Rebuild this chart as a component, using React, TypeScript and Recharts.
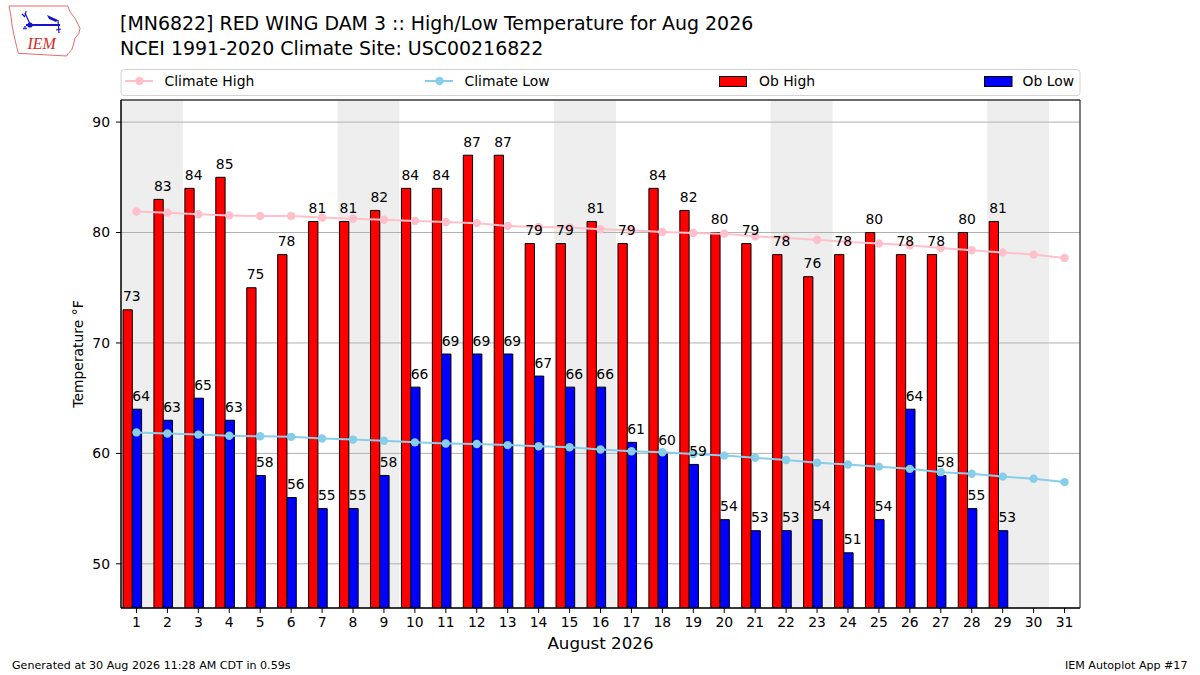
import React from 'react';
import {
  ComposedChart,
  Bar,
  Line,
  XAxis,
  YAxis,
  CartesianGrid,
  ReferenceArea,
  LabelList,
} from 'recharts';

const days = [1, 2, 3, 4, 5, 6, 7, 8, 9, 10, 11, 12, 13, 14, 15, 16, 17, 18, 19, 20, 21, 22, 23, 24, 25, 26, 27, 28, 29, 30, 31];
const obHigh: (number | null)[] = [73, 83, 84, 85, 75, 78, 81, 81, 82, 84, 84, 87, 87, 79, 79, 81, 79, 84, 82, 80, 79, 78, 76, 78, 80, 78, 78, 80, 81, null, null];
const obLow: (number | null)[] = [64, 63, 65, 63, 58, 56, 55, 55, 58, 66, 69, 69, 69, 67, 66, 66, 61, 60, 59, 54, 53, 53, 54, 51, 54, 64, 58, 55, 53, null, null];
const climateHigh = [81.9, 81.8, 81.65, 81.55, 81.5, 81.5, 81.35, 81.25, 81.15, 81.05, 80.95, 80.85, 80.6, 80.5, 80.45, 80.3, 80.2, 80.05, 79.95, 79.9, 79.65, 79.5, 79.35, 79.15, 79.0, 78.85, 78.6, 78.4, 78.2, 78.0, 77.7];
const climateLow = [61.9, 61.8, 61.7, 61.6, 61.55, 61.5, 61.35, 61.25, 61.15, 61.0, 60.9, 60.85, 60.75, 60.65, 60.55, 60.35, 60.2, 60.1, 59.95, 59.8, 59.6, 59.4, 59.15, 59.0, 58.8, 58.6, 58.3, 58.15, 57.9, 57.7, 57.4];
const weekendStarts = [1, 8, 15, 22, 29];
const yTicks = [50, 60, 70, 80, 90];
const yDomain: [number, number] = [46, 92];
const xDomain: [number, number] = [0.5, 31.5];

const titleLine1 = '[MN6822] RED WING DAM 3 :: High/Low Temperature for Aug 2026';
const titleLine2 = 'NCEI 1991-2020 Climate Site: USC00216822';
const xLabel = 'August 2026';
const yLabel = 'Temperature °F';
const footerLeft = 'Generated at 30 Aug 2026 11:28 AM CDT in 0.59s';
const footerRight = 'IEM Autoplot App #17';

const data = days.map((d, i) => ({
  day: d,
  obHigh: obHigh[i],
  obLow: obLow[i],
  climateHigh: climateHigh[i],
  climateLow: climateLow[i],
}));

const FONT = '"DejaVu Sans", sans-serif';

const BarLabel = (props: any) => {
  const { x, y, value } = props;
  if (value === null || value === undefined) return null;
  return (
    <text x={x} y={y - 8.5} fontSize={13.9} fontFamily={FONT} fill="#000" textAnchor="start">
      {value}
    </text>
  );
};

const Logo = () => (
  <g>
    <polygon
      points="9,6 67.7,6 70,11.7 75,18.3 80,28.3 79,33.3 75,38.3 73.3,45 71.7,50 68.3,53.3 66.7,56 18.3,53.3 16.7,46.7 14.3,36.7 12.3,26.7 11,16.7"
      fill="#fff"
      stroke="#e86a6a"
      strokeWidth={1}
    />
    <line x1={26} y1={25} x2={60} y2={25} stroke="#1414c8" strokeWidth={2} />
    <circle cx={30} cy={25} r={2.6} fill="#1414c8" />
    <line x1={25} y1={13} x2={30} y2={24} stroke="#1414c8" strokeWidth={1.2} />
    <line x1={22} y1={14} x2={25} y2={17} stroke="#1414c8" strokeWidth={1.2} />
    <line x1={26} y1={11} x2={25} y2={16} stroke="#1414c8" strokeWidth={1.2} />
    <polygon points="47,15 58,20 56,22 49,19" fill="#1414c8" />
    <line x1={58} y1={20} x2={59} y2={33} stroke="#1414c8" strokeWidth={1.2} />
    <line x1={56} y1={30} x2={61} y2={29} stroke="#1414c8" strokeWidth={1.2} />
    <circle cx={24} cy={28.5} r={0.9} fill="#1414c8" />
    <circle cx={26} cy={28.5} r={0.9} fill="#1414c8" />
    <circle cx={25} cy={26.8} r={0.9} fill="#1414c8" />
    <text x={27.5} y={48.5} fontSize={16} fontFamily='"Liberation Serif", serif' fontStyle="italic" fill="#d42a2a">
      IEM
    </text>
  </g>
);

const Overlay = () => (
  <svg
    width={1200}
    height={675}
    style={{ position: 'absolute', left: 0, top: 0, pointerEvents: 'none' }}
  >
    <Logo />
    <text x={120} y={29.5} fontSize={18.95} fontFamily={FONT} fill="#000">{titleLine1}</text>
    <text x={120} y={54.5} fontSize={18.95} fontFamily={FONT} fill="#000">{titleLine2}</text>

    {/* legend */}
    <rect x={121} y={69.5} width={959} height={26} rx={3} ry={3} fill="#fff" stroke="#d3d3d3" strokeWidth={1} />
    <line x1={125} y1={81} x2={153} y2={81} stroke="#ffc0cb" strokeWidth={2} />
    <circle cx={139.5} cy={81} r={4.2} fill="#ffc0cb" />
    <text x={164.5} y={86} fontSize={13.9} fontFamily={FONT} fill="#000">Climate High</text>
    <line x1={425} y1={81} x2={453} y2={81} stroke="#87ceeb" strokeWidth={2} />
    <circle cx={439.5} cy={81} r={4.2} fill="#87ceeb" />
    <text x={464.5} y={86} fontSize={13.9} fontFamily={FONT} fill="#000">Climate Low</text>
    <rect x={719.5} y={76.5} width={27} height={10} fill="#ff0000" stroke="#000" strokeWidth={1} />
    <text x={759} y={86} fontSize={13.9} fontFamily={FONT} fill="#000">Ob High</text>
    <rect x={984.5} y={76.5} width={27.5} height={10} fill="#0000ff" stroke="#000" strokeWidth={1} />
    <text x={1022.5} y={86} fontSize={13.9} fontFamily={FONT} fill="#000">Ob Low</text>

    <text x={600.5} y={649} fontSize={16.7} fontFamily={FONT} fill="#000" textAnchor="middle">{xLabel}</text>
    <text
      x={83}
      y={354}
      fontSize={13.9}
      fontFamily={FONT}
      fill="#000"
      textAnchor="middle"
      transform="rotate(-90, 83, 354)"
    >
      {yLabel}
    </text>
    <text x={12} y={668.5} fontSize={11.1} fontFamily={FONT} fill="#000">{footerLeft}</text>
    <text x={1187.5} y={668.5} fontSize={11.1} fontFamily={FONT} fill="#000" textAnchor="end">{footerRight}</text>
  </svg>
);

export default function App() {
  return (
    <div style={{ position: 'absolute', left: 0, top: 0, width: 1200, height: 675, background: '#fff' }}>
      <ComposedChart
        width={1200}
        height={675}
        data={data}
        margin={{ top: 100, right: 120, bottom: 37, left: 61 }}
        barGap={0}
        style={{ fontFamily: FONT }}
      >
        {weekendStarts.map((s) => (
          <ReferenceArea
            key={'we' + s}
            x1={s - 0.5}
            x2={s + 1.5}
            y1={yDomain[0]}
            y2={yDomain[1]}
            fill="#eeeeee"
            fillOpacity={1}
            stroke="none"
            zIndex={-200}
          />
        ))}
        <CartesianGrid vertical={false} stroke="#b0b0b0" strokeWidth={1} />
        <XAxis
          dataKey="day"
          type="number"
          domain={xDomain}
          ticks={days}
          interval={0}
          allowDataOverflow
          height={30}
          tickSize={5}
          tickMargin={4}
          tick={{ fill: '#000', fontSize: 13.9, fontFamily: FONT }}
          tickLine={{ stroke: '#000' }}
          axisLine={{ stroke: '#000' }}
        />
        <YAxis
          type="number"
          domain={yDomain}
          ticks={yTicks}
          interval={0}
          allowDataOverflow
          width={60}
          tickSize={5}
          tickMargin={6}
          tick={{ fill: '#000', fontSize: 13.9, fontFamily: FONT }}
          tickLine={{ stroke: '#000' }}
          axisLine={{ stroke: '#000' }}
        />
        <Bar dataKey="obHigh" fill="#ff0000" stroke="#000" strokeWidth={1} barSize={9.3} isAnimationActive={false}>
          <LabelList dataKey="obHigh" content={BarLabel} />
        </Bar>
        <Bar dataKey="obLow" fill="#0000ff" stroke="#000" strokeWidth={1} barSize={9.3} isAnimationActive={false}>
          <LabelList dataKey="obLow" content={BarLabel} />
        </Bar>
        <Bar dataKey="spacer" fill="none" barSize={9.3} legendType="none" isAnimationActive={false} />
        <Line
          type="linear"
          dataKey="climateHigh"
          stroke="#ffc0cb"
          strokeWidth={2}
          dot={{ r: 4.2, fill: '#ffc0cb', stroke: '#ffc0cb', strokeWidth: 0 }}
          activeDot={false}
          isAnimationActive={false}
        />
        <Line
          type="linear"
          dataKey="climateLow"
          stroke="#87ceeb"
          strokeWidth={2}
          dot={{ r: 4.2, fill: '#87ceeb', stroke: '#87ceeb', strokeWidth: 0 }}
          activeDot={false}
          isAnimationActive={false}
        />
        <ReferenceArea
          x1={xDomain[0]}
          x2={xDomain[1]}
          y1={yDomain[0]}
          y2={yDomain[1]}
          fill="none"
          fillOpacity={0}
          stroke="#000"
          strokeWidth={1}
          zIndex={1500}
        />
      </ComposedChart>
      <Overlay />
    </div>
  );
}
